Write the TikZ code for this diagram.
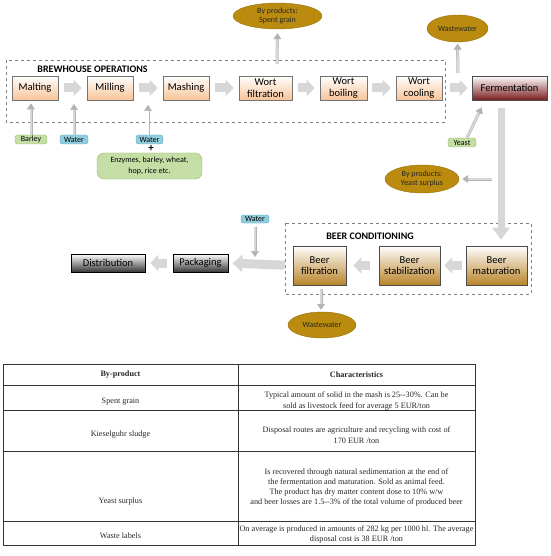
\documentclass[tikz,border=0pt]{standalone}
\usepackage{fontspec}
\setmainfont{Carlito}
\newfontfamily\tabfont{Liberation Serif}
\usetikzlibrary{arrows.meta, positioning, shapes.geometric}
\definecolor{brewbot}{RGB}{247,196,152}
\definecolor{fermbot}{RGB}{122,28,30}
\definecolor{beerbot}{RGB}{185,132,42}
\definecolor{darkbot}{RGB}{55,55,55}
\definecolor{goldfill}{RGB}{186,139,14}
\definecolor{goldline}{RGB}{150,110,10}
\definecolor{greenfill}{RGB}{197,222,166}
\definecolor{greenline}{RGB}{150,185,100}
\definecolor{bluefill}{RGB}{146,205,221}
\definecolor{blueline}{RGB}{75,172,198}
\definecolor{arrfill}{RGB}{215,215,215}
\definecolor{arrline}{RGB}{180,180,180}

\begin{document}
\begin{tikzpicture}[x=1pt, y=-1pt,
  every node/.style={inner sep=0pt, align=center},
  procbox/.style={draw=gray!90!black, line width=0.6pt, minimum height=24pt,
                  font=\fontsize{10.5}{11.5}\selectfont},
  brewnode/.style={procbox, top color=white, bottom color=brewbot, minimum width=46pt},
  fermnode/.style={procbox, draw=black!70, top color=white, bottom color=fermbot},
  beernode/.style={procbox, draw=black!70, top color=white, bottom color=beerbot,
                   minimum height=39pt, minimum width=61pt},
  darknode/.style={procbox, draw=black, top color=white, bottom color=darkbot,
                   minimum height=18pt},
  bynode/.style={ellipse, fill=goldfill, draw=goldline, line width=0.4pt,
                 font=\fontsize{8}{9.5}\selectfont, text=black!85},
  smalllbl/.style={rounded corners=2.5pt, draw, line width=0.4pt, minimum height=9pt,
                   font=\fontsize{8}{8}\selectfont},
  grainlbl/.style={smalllbl, fill=greenfill, draw=greenline},
  waterlbl/.style={smalllbl, fill=bluefill, draw=blueline},
  titlelbl/.style={font=\bfseries\fontsize{10}{12}\selectfont},
  blk/.style={draw=arrfill, line width=9pt, -{Triangle[length=8pt, width=16pt]}},
  thinarr/.style={draw=arrline, double=arrfill, double distance=2pt, line width=0.5pt,
                  -{Triangle[length=6pt, width=8pt]}},
  hollowarr/.style={thinarr, double=white},
  dashbox/.style={draw=gray, dashed, line width=0.6pt},
  tabline/.style={draw=black!80, line width=0.7pt},
  tabtxt/.style={font=\tabfont\fontsize{8.2}{11}\selectfont, text=black!85}
]
\useasboundingbox (0,0) rectangle (550,556);

%--- Brewhouse operations ---
\draw[dashbox] (6,60) rectangle (445,122);
\node[titlelbl] (brewtitle) at (92.5,69) {BREWHOUSE OPERATIONS};

\node[brewnode] (malt)  at (35,88)    {Malting};
\node[brewnode] (mill)  at (110,88)   {Milling};
\node[brewnode] (mash)  at (186,88)   {Mashing};
\node[brewnode, minimum width=53pt] (wfilt) at (265.5,88) {Wort\\filtration};
\node[brewnode, minimum width=47pt] (wboil) at (343.5,88) {Wort\\boiling};
\node[brewnode] (wcool) at (419,88)   {Wort\\cooling};
\node[fermnode, minimum width=75pt] (ferm) at (509.5,88) {Fermentation};

\draw[blk, shorten <=6pt, shorten >=5pt] (malt.east)  -- (mill.west);
\draw[blk, shorten <=6pt, shorten >=5pt] (mill.east)  -- (mash.west);
\draw[blk, shorten <=6pt, shorten >=5pt] (mash.east)  -- (wfilt.west);
\draw[blk, shorten <=6pt, shorten >=5pt] (wfilt.east) -- (wboil.west);
\draw[blk, shorten <=5pt, shorten >=5pt] (wboil.east) -- (wcool.west);
\draw[blk, shorten <=8pt, shorten >=4pt] (wcool.east) -- (ferm.west);

% inputs below
\node[grainlbl, minimum width=32pt] (barley) at (31,139.5)  {Barley};
\node[waterlbl, minimum width=28pt] (water1) at (74,139.5)  {Water};
\node[waterlbl, minimum width=27pt] (water2) at (149.5,139.5) {Water};
\node[font=\bfseries\fontsize{11}{11}\selectfont] (plus) at (151,148.5) {+};
\node[grainlbl, rounded corners=7pt, minimum width=105pt, minimum height=26pt,
      font=\fontsize{8}{11}\selectfont] (enz) at (149.5,166)
      {Enzymes, barley, wheat,\\hop, rice etc.};

\coordinate (w1top) at (74,104);
\coordinate (w2top) at (148,105);
\draw[thinarr, shorten >=3pt] (barley.north) -- (barley.north |- malt.south);
\draw[thinarr] (water1.north) -- (w1top);
\draw[hollowarr] ([xshift=-1.5pt]water2.north) -- (w2top);

% by-products, wastewater, yeast
\node[bynode, minimum width=89pt, minimum height=26pt] (spent) at (277.5,16)
      {By products:\\Spent grain};
\node[bynode, minimum width=61pt, minimum height=27pt] (wwtop) at (457.5,28.5)
      {Wastewater};
\node[grainlbl, minimum width=28pt] (yeast) at (462,142.5) {Yeast};
\node[bynode, minimum width=74pt, minimum height=28pt] (ysur) at (422,179)
      {By products:\\Yeast surplus};

\coordinate (sg) at (277,64);
\coordinate (wt) at (458,73);
\coordinate (ys) at (492,179);
\draw[thinarr, shorten >=4pt] (sg) -- (spent.south);
\draw[thinarr, shorten >=1.5pt] (wt) -- (wwtop.south);
\draw[thinarr] ([xshift=5pt]yeast.north) -- ([xshift=10pt,yshift=-7pt]ferm.south west);
\draw[thinarr, shorten >=3pt] (ys) -- (ysur.east);

%--- Beer conditioning ---
\draw[dashbox] (285,223) rectangle (531,294);
\node[titlelbl] (beertitle) at (370,236) {BEER CONDITIONING};

\node[beernode, minimum width=53pt] (bfilt) at (319.5,265.5) {Beer\\filtration};
\node[beernode] (bstab) at (409.5,265.5) {Beer\\stabilization};
\node[beernode] (bmat)  at (496.5,265.5) {Beer\\maturation};

\draw[blk, line width=7pt, -{Triangle[length=12pt, width=17pt]}]
      ([xshift=-8.5pt,yshift=-8pt]ferm.south) -- ([xshift=4.5pt,yshift=6pt]bmat.north);
\draw[blk, shorten <=4pt, shorten >=4pt] (bmat.west)  -- (bstab.east);
\draw[blk, shorten <=9pt, shorten >=7pt] (bstab.west) -- (bfilt.east);

\node[bynode, minimum width=68pt, minimum height=26pt] (wwbot) at (322,325) {Wastewater};
\draw[thinarr, shorten <=4pt, shorten >=2pt] ([xshift=1.5pt]bfilt.south) -- ([xshift=1.5pt]bfilt.south |- wwbot.north);

%--- Packaging and distribution ---
\node[darknode, minimum width=55pt] (pack) at (200.5,263) {Packaging};
\node[darknode, minimum width=74pt] (dist) at (108,263)   {Distribution};
\node[waterlbl, minimum width=28pt, minimum height=8pt] (water3) at (255,219) {Water};

\draw[blk, -{Triangle[length=10pt, width=17pt]}, shorten <=8pt, shorten >=4pt]
      (bfilt.west) -- (pack.east);
\draw[blk, shorten <=6pt, shorten >=5pt] (pack.west) -- (dist.east);
\coordinate (wp) at (255,257);
\draw[thinarr, shorten <=4pt] (water3.south) -- (wp);

%--- Table of by-products ---
\draw[tabline] (3,364) rectangle (475,545);
\draw[tabline] (238,364) -- (238,545);
\foreach \y in {385,410,451,521}
  \draw[tabline] (3,\y) -- (475,\y);

\node[tabtxt, font=\tabfont\bfseries\fontsize{8.2}{11}\selectfont] (h1) at (120.5,375) {By-product};
\node[tabtxt, font=\tabfont\bfseries\fontsize{8.2}{11}\selectfont] (h2) at (356.5,375) {Characteristics};

\node[tabtxt] (r1a) at (120.5,402) {Spent grain};
\node[tabtxt] (r1b) at (356.5,400.5)
  {Typical amount of solid in the mash is 25--30\%. Can be\\sold as livestock feed for average 5 EUR/ton};
\node[tabtxt] (r2a) at (120.5,435) {Kieselguhr sludge};
\node[tabtxt] (r2b) at (356.5,435)
  {Disposal routes are agriculture and recycling with cost of\\170 EUR /ton};
\node[tabtxt] (r3a) at (120.5,502) {Yeast surplus};
\node[tabtxt, font=\tabfont\fontsize{8.2}{10}\selectfont] (r3b) at (356.5,487)
  {Is recovered through natural sedimentation at the end of\\
   the fermentation and maturation. Sold as animal feed.\\
   The product has dry matter content dose to 10\% w/w\\
   and beer losses are 1.5--3\% of the total volume of produced beer};
\node[tabtxt] (r4a) at (120.5,535.5) {Waste labels};
\node[tabtxt, font=\tabfont\fontsize{8.2}{10}\selectfont] (r4b) at (356.5,534.5)
  {On average is produced in amounts of 282 kg per 1000 hl. The average\\disposal cost is 38 EUR /ton};

\end{tikzpicture}
\end{document}
